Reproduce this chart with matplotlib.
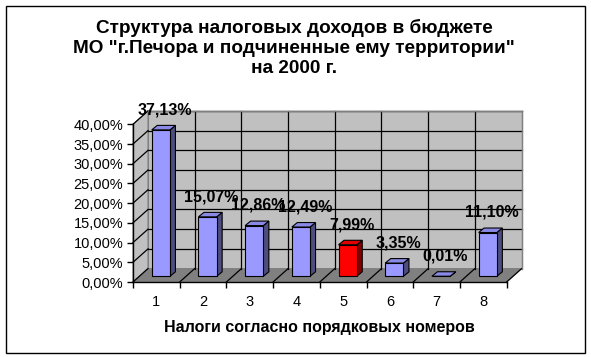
import matplotlib
matplotlib.use("Agg")
import matplotlib.pyplot as plt
from matplotlib.patches import Polygon, Rectangle
from matplotlib.ticker import FixedLocator, FixedFormatter

categories = ["1", "2", "3", "4", "5", "6", "7", "8"]
values = [37.13, 15.07, 12.86, 12.49, 7.99, 3.35, 0.01, 11.10]
labels = ["37,13%", "15,07%", "12,86%", "12,49%", "7,99%", "3,35%", "0,01%", "11,10%"]
highlight = 4  # index of red bar
yticks = [0, 5, 10, 15, 20, 25, 30, 35, 40]
ytick_labels = ["0,00%", "5,00%", "10,00%", "15,00%", "20,00%", "25,00%", "30,00%", "35,00%", "40,00%"]
title = 'Структура налоговых доходов в бюджете\nМО "г.Печора и подчиненные ему территории"\nна 2000 г.'
xlabel = "Налоги согласно порядковых номеров"

plt.rcParams['font.family'] = ['Liberation Sans', 'DejaVu Sans']

W, H = 591, 357
fig = plt.figure(figsize=(W / 100, H / 100), dpi=100)
fig.patch.set_facecolor('white')

# outer chart border
fig.patches.append(Rectangle((5.5 / W, 1 - 352.5 / H), 579.5 / W, 347 / H,
                             transform=fig.transFigure, fill=False,
                             edgecolor='black', linewidth=1.0))

ax = fig.add_axes([133 / W, 1 - 282 / H, 373.6 / W, 157.7 / H])
ax.set_xlim(0, 8)
ax.set_ylim(0, 40)
ax.patch.set_visible(False)

n = len(values)
dx, dy = 0.321, 3.40          # full depth offset in data units
bx0, by0 = 0.096, 1.45        # bar front-face offset
sx, sy = 0.118, 1.14          # bar depth
bw = 0.39
ymax = yticks[-1]

def poly(pts, fc, ec='black', lw=0.8, z=1):
    p = Polygon(pts, closed=True, facecolor=fc, edgecolor=ec, linewidth=lw,
                zorder=z, clip_on=False, joinstyle='miter')
    ax.add_patch(p)

# walls
poly([(dx, dy), (n + dx, dy), (n + dx, ymax + dy), (dx, ymax + dy)], '#C0C0C0', ec='#808080', z=0.5)
poly([(0, 0), (dx, dy), (dx, ymax + dy), (0, ymax)], '#C0C0C0', ec='#808080', z=0.5)
poly([(0, 0), (n, 0), (n + dx, dy), (dx, dy)], '#808080', ec='#808080', z=0.5)

# gridlines
for v in yticks[1:]:
    ax.plot([dx, n + dx], [v + dy, v + dy], color='black', lw=0.9, zorder=0.8, clip_on=False)
    ax.plot([0, dx], [v, v + dy], color='black', lw=0.9, zorder=0.8, clip_on=False)
for k in range(1, n):
    ax.plot([k + dx, k + dx], [dy, ymax + dy], color='black', lw=0.9, zorder=0.8, clip_on=False)
for k in range(0, n + 1):
    ax.plot([k, k + dx], [0, dy], color='black', lw=0.9, zorder=0.8, clip_on=False)
ax.plot([dx, n + dx], [ymax + dy, ymax + dy], color='#808080', lw=1.0, zorder=0.9, clip_on=False)
ax.plot([n + dx, n + dx], [dy, ymax + dy], color='#808080', lw=1.0, zorder=0.9, clip_on=False)

# bars
for i, v in enumerate(values):
    if i == highlight:
        face, side, top = '#FF0000', '#800000', '#E00000'
    else:
        face, side, top = '#9999FF', '#4D4D80', '#8A8AE6'
    xl = i + 0.5 - bw / 2 + bx0
    xr = i + 0.5 + bw / 2 + bx0
    y0 = by0
    y1 = by0 + v
    z = 2 + i * 0.01
    poly([(xr, y0), (xr + sx, y0 + sy), (xr + sx, y1 + sy), (xr, y1)], side, z=z)
    poly([(xl, y1), (xr, y1), (xr + sx, y1 + sy), (xl + sx, y1 + sy)], top, z=z)
    poly([(xl, y0), (xr, y0), (xr, y1), (xl, y1)], face, z=z)
    ax.text(i + 0.5 + bx0 + 0.085, y1 + 5.1, labels[i], ha='center', va='center',
            fontsize=11.5, fontweight='bold', color='black', zorder=5, clip_on=False)

# axes
for s in ['top', 'right']:
    ax.spines[s].set_visible(False)
for s in ['left', 'bottom']:
    ax.spines[s].set_linewidth(1.0)
    ax.spines[s].set_zorder(3)
ax.set_yticks(yticks)
ax.set_yticklabels(ytick_labels)
ax.tick_params(axis='y', direction='out', length=4, width=1, pad=3, labelsize=10.5)
ax.xaxis.set_major_locator(FixedLocator(list(range(n + 1))))
ax.xaxis.set_major_formatter(FixedFormatter([''] * (n + 1)))
ax.xaxis.set_minor_locator(FixedLocator([i + 0.5 for i in range(n)]))
ax.xaxis.set_minor_formatter(FixedFormatter(categories))
ax.tick_params(axis='x', which='major', direction='out', length=4, width=1)
ax.tick_params(axis='x', which='minor', length=0, pad=9, labelsize=10.5)
ax.set_xlabel(xlabel, fontsize=11.5, fontweight='bold', labelpad=8)

fig.text(294 / W, 1 - 19 / H, title, ha='center', va='top', fontsize=13.7,
         fontweight='bold', linespacing=1.22)

fig.savefig('out.png', dpi=100, facecolor='white')
